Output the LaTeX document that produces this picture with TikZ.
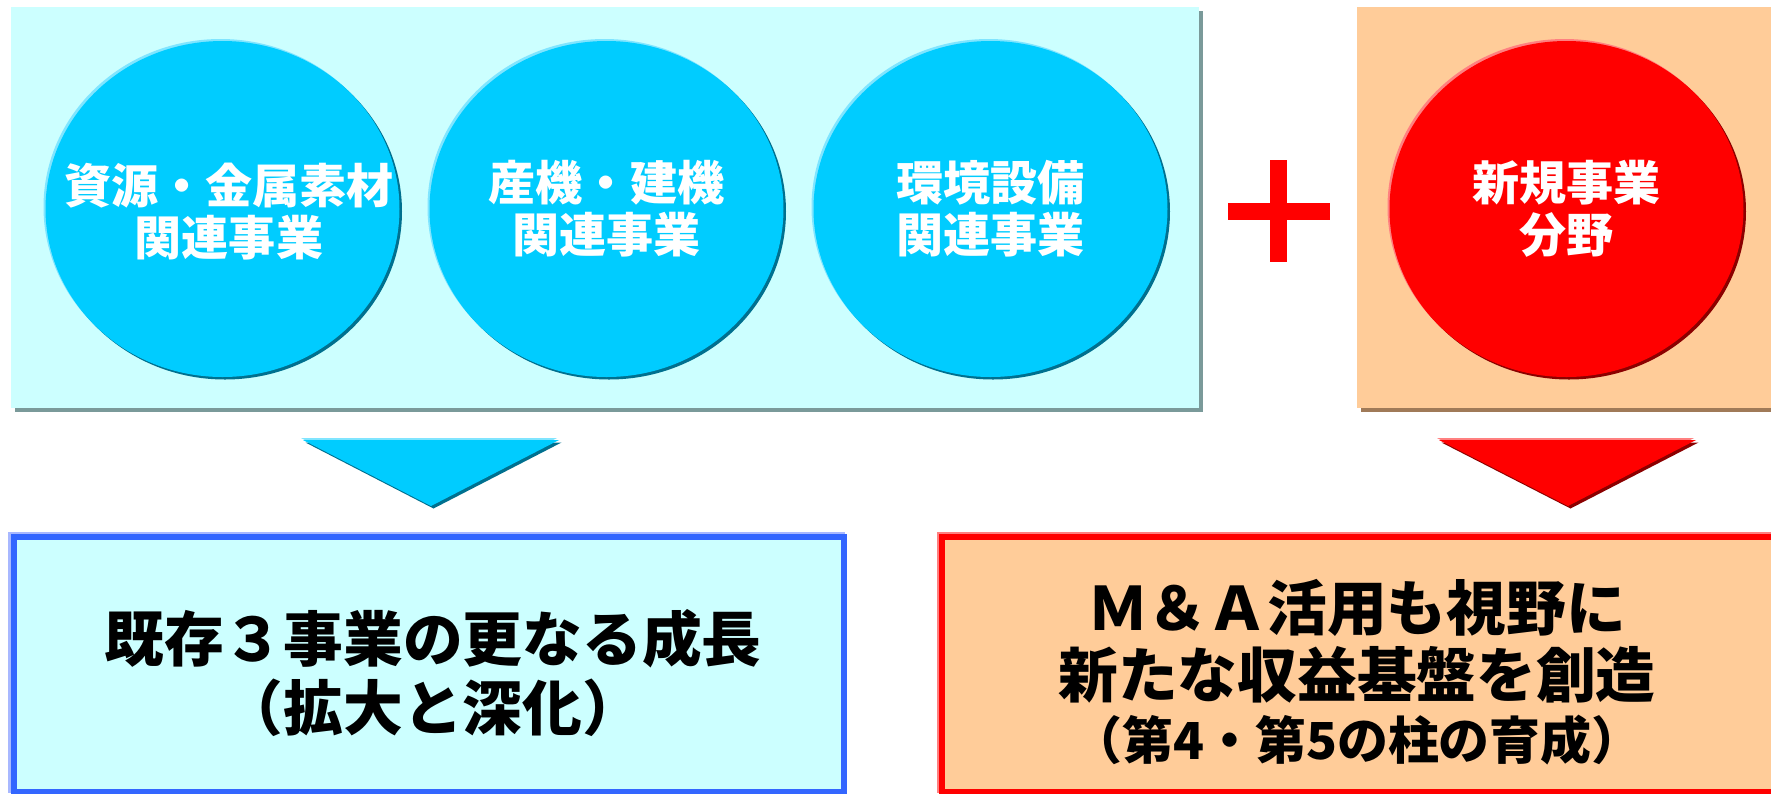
\documentclass[tikz,border=0pt]{standalone}
\usepackage{fontspec}
\setmainfont{Noto Sans CJK JP}
\usetikzlibrary{shapes.geometric,shadows}

\definecolor{paleCyan}{HTML}{CCFFFF}
\definecolor{skyBlue}{HTML}{00CCFF}
\definecolor{deepBlue}{HTML}{00708F}
\definecolor{lightBlue}{HTML}{80E5FF}
\definecolor{peach}{HTML}{FFCC99}
\definecolor{lightPeach}{HTML}{FFE0C4}
\definecolor{darkRed}{HTML}{8B0000}
\definecolor{lightRed}{HTML}{FF8080}
\definecolor{edgeBlue}{HTML}{3366FF}
\definecolor{rimBlue}{HTML}{A8B8FF}
\definecolor{sideBlue}{HTML}{2244CC}
\definecolor{panelShadow}{HTML}{7A9A9A}
\definecolor{peachShadow}{HTML}{A07A58}

\tikzset{
  panel/.style={rectangle, inner sep=0pt, minimum height=4.01cm,
    general shadow={fill=#1, shadow xshift=0.035cm, shadow yshift=-0.035cm}},
  rimmed/.style 2 args={general shadow={fill=#1, shadow xshift=-0.02cm, shadow yshift=0.02cm},
    general shadow={fill=#2, shadow xshift=0.025cm, shadow yshift=-0.025cm}},
  bubble/.style={ellipse, inner sep=0pt, minimum width=3.54cm, minimum height=3.36cm},
  bubbletext/.style={text=white, align=center, inner sep=0pt, font=\fontsize{13.4}{14.8}\selectfont\bfseries},
  outcome/.style 2 args={rectangle, inner sep=0pt, line width=0.06cm, draw=#1,
    general shadow={draw=#2, line width=0.06cm, shadow xshift=-0.025cm, shadow yshift=0.025cm}},
  boxtext/.style={text=black, align=center, inner sep=0pt, font=\fontsize{17}{19.9}\selectfont\bfseries},
}

\begin{document}
\begin{tikzpicture}
\useasboundingbox (0,0) rectangle (17.71,-7.93);
% upper panels
\node[panel=panelShadow, fill=paleCyan, minimum width=11.88cm] (existing) at (6.05,-2.075) {};
\node[panel=peachShadow, fill=peach, minimum width=4.33cm] (newfield) at (15.735,-2.075) {};
% business circles
\node[bubble, fill=skyBlue, rimmed={lightBlue}{deepBlue}] (metal) at (2.225,-2.09) {};
\node[bubble, fill=skyBlue, rimmed={lightBlue}{deepBlue}] (machine) at (6.065,-2.09) {};
\node[bubble, fill=skyBlue, rimmed={lightBlue}{deepBlue}] (envir) at (9.905,-2.09) {};
\node[bubble, fill=red, rimmed={lightRed}{darkRed}] (newbiz) at (15.665,-2.09) {};
\node[bubbletext] (metaltext) at (2.29,-2.12) {資源・金属素材\\関連事業};
\node[bubbletext] (machinetext) at (machine) {産機・建機\\関連事業};
\node[bubbletext] (envirtext) at (envir) {環境設備\\関連事業};
\node[bubbletext] (newbiztext) at (newbiz) {新規事業\\分野};
% plus sign
\node[fill=red, inner sep=0pt, minimum width=1.02cm, minimum height=0.17cm] (plush) at (12.785,-2.11) {};
\node[fill=red, inner sep=0pt, minimum width=0.17cm, minimum height=1.02cm] (plusv) at (plush) {};
% arrows down
\fill[skyBlue, rimmed={lightBlue}{deepBlue}] (3.03,-4.40) -- (5.59,-4.40) -- (4.31,-5.06) -- cycle;
\fill[red, rimmed={lightRed}{darkRed}] (14.39,-4.40) -- (16.96,-4.40) -- (15.68,-5.06) -- cycle;
% outcome boxes
\node[outcome={edgeBlue}{rimBlue}, fill=paleCyan, minimum width=8.30cm, minimum height=2.55cm] (grow) at (4.29,-6.645) {};
\node[outcome={red}{lightRed}, fill=peach, minimum width=8.58cm, minimum height=2.55cm] (create) at (13.71,-6.645) {};
\node[boxtext] (growtext) at (4.33,-6.73) {既存３事業の更なる成長\\（拡大と深化）};
\node[boxtext, font=\fontsize{17}{19}\selectfont\bfseries] (createtext) at (13.57,-6.415) {Ｍ＆Ａ活用も視野に\\新たな収益基盤を創造};
\node[boxtext, font=\fontsize{14.5}{16}\selectfont\bfseries] (pillartext) at (13.57,-7.40) {（第4・第5の柱の育成）};
\end{tikzpicture}
\end{document}
